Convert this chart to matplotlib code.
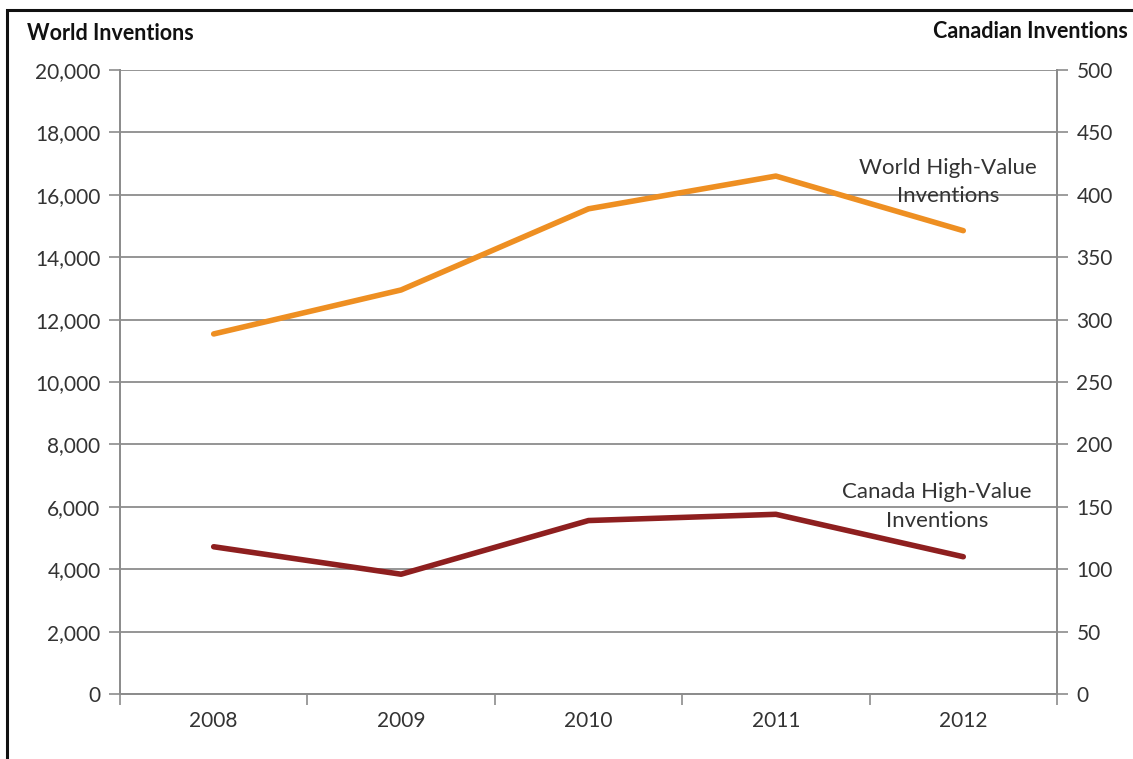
import matplotlib.pyplot as plt
from matplotlib.patches import Rectangle

# data
years = ["2008", "2009", "2010", "2011", "2012"]
world = [11540, 12950, 15550, 16600, 14850]   # left axis
canada = [118, 96, 139, 144, 110]             # right axis

orange = "#EE8F22"
darkred = "#8E1F1F"
grid = "#8C8C8C"
txt = "#333333"

plt.rcParams["font.family"] = ["Lato", "DejaVu Sans"]

fig = plt.figure(figsize=(11.33, 7.59), dpi=100)
ax = fig.add_axes([0.1059, 0.0856, 0.8270, 0.8222])
ax2 = ax.twinx()

x = list(range(len(years)))
ax.plot(x, world, color=orange, lw=4, solid_capstyle="round", zorder=3)
ax2.plot(x, canada, color=darkred, lw=4, solid_capstyle="round", zorder=3)

ax.set_xlim(-0.5, 4.5)
ax.set_ylim(0, 20000)
ax2.set_ylim(0, 500)
ax.set_yticks(range(0, 20001, 2000))
ax.set_yticklabels([f"{v:,}" for v in range(0, 20001, 2000)])
ax2.set_yticks(range(0, 501, 50))

# category labels centred, tick marks on the boundaries
ax.set_xticks([i - 0.5 for i in range(len(years) + 1)])
ax.set_xticklabels([])
ax.set_xticks(x, minor=True)
ax.set_xticklabels(years, minor=True)
ax.tick_params(axis="x", which="major", length=8, color=grid, width=1.2, direction="out")
ax.tick_params(axis="x", which="minor", length=0, pad=12, labelsize=15, labelcolor=txt)
ax.tick_params(axis="y", length=8, color=grid, width=1.2, labelsize=15, labelcolor=txt, pad=6)
ax2.tick_params(axis="y", length=8, color=grid, width=1.2, labelsize=15, labelcolor=txt, pad=6)

ax.grid(axis="y", color=grid, lw=1.3)
ax.set_axisbelow(True)
for a in (ax, ax2):
    a.spines["top"].set_visible(False)
    for s in ("left", "right", "bottom"):
        a.spines[s].set_color(grid)
        a.spines[s].set_linewidth(1.3)

ax.text(3.92, 16410, "World High-Value\nInventions", ha="center", va="center",
        fontsize=16, color=txt, linespacing=1.55)
ax2.text(3.86, 150, "Canada High-Value\nInventions", ha="center", va="center",
         fontsize=16, color=txt, linespacing=1.55)

fig.text(27 / 1133, 1 - 33 / 759, "World Inventions", ha="left", va="center",
         fontsize=15.5, fontweight="bold", color="#111111")
fig.text(1128 / 1133, 1 - 31 / 759, "Canadian Inventions", ha="right", va="center",
         fontsize=15.5, fontweight="bold", color="#111111")

# outer frame, cut off at right and bottom as in the source image
fig.patches.append(Rectangle((7 / 1133, -0.05), 1.1, 1 - 10 / 759 + 0.05,
                             transform=fig.transFigure, fill=False,
                             edgecolor="#111111", lw=2.2))

fig.savefig("out.png", dpi=100)
